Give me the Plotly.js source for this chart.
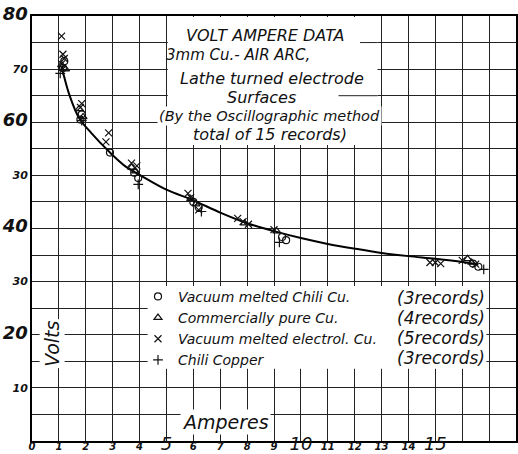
<!DOCTYPE html>
<html><head><meta charset="utf-8">
<script src="https://cdn.plot.ly/plotly-3.0.1.min.js"></script>
<style>html,body{margin:0;padding:0;background:#fff}</style>
</head><body><div id="chart" style="width:518px;height:454px"></div>
<script>
// Fitted curve
const curveAmps  = [1.1, 1.4, 1.75, 2.2, 2.9, 3.5, 4.0, 5.0, 6.0, 7.0, 8.0, 9.0, 10.0, 11.0, 12.0, 13.0, 14.0, 15.0, 16.0, 16.6];
const curveVolts = [70.5, 65.0, 60.8, 58.0, 54.3, 51.6, 50.1, 47.3, 45.3, 43.0, 41.0, 39.5, 38.2, 37.1, 36.2, 35.4, 34.8, 34.3, 33.7, 33.2];

// Vacuum melted Chili Cu. (circles)
const vacChiliAmps  = [1.15, 1.2, 1.8, 1.85, 2.9, 3.8, 3.95, 6.0, 6.2, 9.3, 9.45, 16.4, 16.6];
const vacChiliVolts = [70.2, 71.5, 60.5, 61.5, 54.3, 50.5, 49.5, 45.0, 44.0, 38.4, 37.8, 33.4, 32.8];
// Commercially pure Cu. (triangles)
const commAmps  = [1.1, 1.25, 1.75, 1.9, 3.7, 3.85, 5.9, 6.1, 7.9, 9.1, 16.2, 16.35];
const commVolts = [70.8, 70.0, 62.5, 61.0, 51.5, 50.8, 45.6, 44.6, 41.0, 39.5, 34.3, 33.6];
// Vacuum melted electrol. Cu. (crosses)
const electAmps  = [1.1, 1.15, 1.2, 1.1, 1.85, 1.8, 2.75, 2.85, 3.7, 3.9, 5.8, 5.9, 6.2, 7.65, 7.85, 8.05, 9.0, 14.8, 15.0, 15.2, 16.0, 16.5];
const electVolts = [76.2, 72.8, 72.0, 71.0, 63.5, 62.8, 56.3, 58.0, 52.3, 51.8, 46.6, 45.8, 43.5, 41.9, 41.3, 40.8, 39.8, 33.6, 33.6, 33.4, 34.0, 33.3];
// Chili Copper (plus)
const chiliAmps  = [1.05, 1.15, 1.85, 3.95, 6.3, 9.2, 16.8];
const chiliVolts = [69.2, 69.8, 60.3, 48.3, 43.2, 37.4, 32.3];

const seriesNames  = ['Vacuum melted Chili Cu.', 'Commercially pure Cu.', 'Vacuum melted electrol. Cu.', 'Chili Copper'];
const recordCounts = ['(3records)', '(4records)', '(5records)', '(3records)'];

const titleLines = ['VOLT AMPERE DATA', '3mm Cu.- AIR ARC,', 'Lathe turned electrode', 'Surfaces', '(By the Oscillographic method', 'total of 15 records)'];

const xTickVals   = [0,1,2,3,4,5,6,7,8,9,10,11,12,13,14,15,16,17];
const xTickLabels = ['0','1','2','3','4','5','6','7','8','9','10','11','12','13','14','15','',''];
const yTickVals   = [0,5,10,15,20,25,30,35,40,45,50,55,60,65,70,75,80];
const yTickLabels = ['','','10','','20','','30','','40','','30','','60','','70','','80'];

const FONT = 'DejaVu Sans, sans-serif';
const bigX = new Set(['5','10','15']);
const bigY = new Set([20,40,60,80]);
const xText = xTickLabels.map(t => t === '' ? '' : (bigX.has(t) ? `<span style="font-size:18px;font-weight:normal">${t}</span>` : t));
const yText = yTickLabels.map((t, i) => t === '' ? '' : (bigY.has(yTickVals[i]) ? `<span style="font-size:18px">${t}</span>` : t));

const mk = (sym) => ({symbol: sym, size: 7, color: '#111', line: {color: '#111', width: 1.2}});
const traces = [
  {x: curveAmps, y: curveVolts, mode: 'lines', line: {shape: 'spline', color: '#000', width: 2}, showlegend: false, hoverinfo: 'skip'},
  {x: vacChiliAmps, y: vacChiliVolts, mode: 'markers', name: seriesNames[0], marker: mk('circle-open')},
  {x: commAmps, y: commVolts, mode: 'markers', name: seriesNames[1], marker: mk('triangle-up-open')},
  {x: electAmps, y: electVolts, mode: 'markers', name: seriesNames[2], marker: mk('x-thin-open')},
  {x: chiliAmps, y: chiliVolts, mode: 'markers', name: seriesNames[3], marker: mk('cross-thin-open')}
];

const titlePos  = [[8.66, 76.3], [7.66, 72.7], [8.92, 68.3], [8.55, 64.7], [8.85, 61.1], [8.85, 57.7]];
const titleSize = [16, 15, 16, 16, 14.5, 16];
const annotations = titleLines.map((t, i) => ({
  x: titlePos[i][0], y: titlePos[i][1], xref: 'x', yref: 'y', text: t, showarrow: false,
  font: {family: FONT, size: titleSize[i], style: 'italic', color: '#111'}, xanchor: 'center', yanchor: 'middle'
}));
annotations[4].bgcolor = '#fff';
const recY = [27.0, 23.2, 19.4, 15.7];
recordCounts.forEach((t, i) => annotations.push({
  x: 13.5, y: recY[i], xref: 'x', yref: 'y', text: t, showarrow: false, xanchor: 'left', yanchor: 'middle',
  font: {family: FONT, size: 17, style: 'italic', color: '#111'}
}));
annotations.push({x: 0.74, y: 18.3, xref: 'x', yref: 'y', text: 'Volts', textangle: -90, showarrow: false,
  font: {family: FONT, size: 19, style: 'italic', color: '#111'}, bgcolor: '#fff'});
annotations.push({x: 7.2, y: 3.6, xref: 'x', yref: 'y', text: 'Amperes', showarrow: false,
  font: {family: FONT, size: 19, style: 'italic', color: '#111'}, bgcolor: '#fff'});

const shapes = [
  {type: 'rect', xref: 'x', yref: 'y', x0: 5.05, x1: 12.85, y0: 55.7, y1: 79.8, fillcolor: '#fff', line: {width: 0}, layer: 'between'},
  {type: 'rect', xref: 'x', yref: 'y', x0: 4.3, x1: 16.9, y0: 13.6, y1: 29.2, fillcolor: '#fff', line: {width: 0}, layer: 'between'},
  {type: 'line', xref: 'x', yref: 'y', x0: 12.2, x1: 12.85, y0: 75, y1: 75, line: {color: '#222', width: 1}, layer: 'between'},
  {type: 'line', xref: 'x', yref: 'y', x0: 11.4, x1: 12.85, y0: 65, y1: 65, line: {color: '#222', width: 1}, layer: 'between'}
];

const axisCommon = {showline: true, mirror: true, linecolor: '#000', linewidth: 2, showgrid: true, gridcolor: '#222', gridwidth: 1, zeroline: false, ticks: '', fixedrange: true};

const layout = {
  width: 518, height: 454,
  margin: {l: 32, r: 2, t: 16, b: 13},
  paper_bgcolor: '#fff', plot_bgcolor: '#fff',
  xaxis: Object.assign({}, axisCommon, {range: [0, 18], tickmode: 'array', tickvals: xTickVals, ticktext: xText,
    ticklabelstandoff: -5,
    tickfont: {family: FONT, size: 10, style: 'italic', weight: 'bold', color: '#111'}}),
  yaxis: Object.assign({}, axisCommon, {range: [0, 80], tickmode: 'array', tickvals: yTickVals, ticktext: yText,
    tickfont: {family: FONT, size: 11, style: 'italic', weight: 'bold', color: '#111'}}),
  showlegend: true,
  legend: {x: 0.219, y: 0.377, xanchor: 'left', yanchor: 'top', bgcolor: 'rgba(0,0,0,0)', borderwidth: 0,
    font: {family: FONT, size: 14, style: 'italic', color: '#111'}, itemwidth: 30, tracegroupgap: 0},
  annotations: annotations,
  shapes: shapes
};

Plotly.newPlot('chart', traces, layout, {displayModeBar: false, staticPlot: true});
</script></body></html>
